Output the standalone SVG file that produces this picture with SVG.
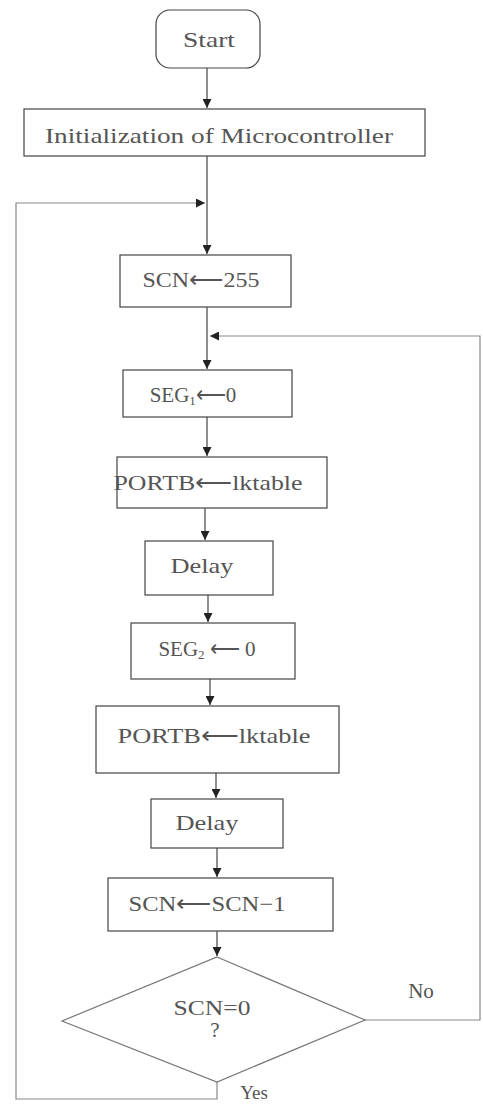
<svg xmlns="http://www.w3.org/2000/svg" width="483" height="1105" viewBox="0 0 483 1105">
<style>
.box{fill:#fff;stroke:#444;stroke-width:1.2}
.t{font-family:"Liberation Serif","Times New Roman",serif;fill:#555;font-size:21px;text-anchor:middle}
.ln{fill:none;stroke:#333;stroke-width:1.1}
.lp{fill:none;stroke:#888;stroke-width:1.2}
.sub{font-size:13px}
</style>
<defs>
<marker id="ah" viewBox="0 0 10 10" refX="10" refY="5" markerWidth="9" markerHeight="9" markerUnits="userSpaceOnUse" orient="auto">
<path d="M0,0 L10,5 L0,10 Z" fill="#222"/>
</marker>
</defs>
<rect width="483" height="1105" fill="#fff"/>
<g id="connectors">
<line class="ln" x1="207" y1="68" x2="207" y2="108" marker-end="url(#ah)"/>
<line class="ln" x1="207" y1="156" x2="207" y2="254" marker-end="url(#ah)"/>
<polyline class="lp" points="217,1082 217,1099 16,1099 16,203 205,203" marker-end="url(#ah)"/>
<line class="ln" x1="207" y1="307" x2="207" y2="369" marker-end="url(#ah)"/>
<polyline class="lp" points="365,1020 480,1020 480,336 210,336" marker-end="url(#ah)"/>
<line class="ln" x1="207" y1="417" x2="207" y2="456" marker-end="url(#ah)"/>
<line class="ln" x1="205" y1="508" x2="205" y2="540" marker-end="url(#ah)"/>
<line class="ln" x1="208" y1="595" x2="208" y2="622" marker-end="url(#ah)"/>
<line class="ln" x1="210" y1="679" x2="210" y2="705" marker-end="url(#ah)"/>
<line class="ln" x1="216" y1="773" x2="216" y2="798" marker-end="url(#ah)"/>
<line class="ln" x1="217" y1="848" x2="217" y2="877" marker-end="url(#ah)"/>
<line class="ln" x1="217" y1="931" x2="217" y2="956" marker-end="url(#ah)"/>
</g>
<g id="start">
<rect class="box" x="156" y="10" width="104" height="58" rx="14"/>
<text class="t" x="209" y="47" textLength="52" lengthAdjust="spacingAndGlyphs">Start</text>
</g>
<g id="init">
<rect class="box" x="24" y="109" width="401" height="47"/>
<text class="t" x="219" y="143" textLength="348" lengthAdjust="spacingAndGlyphs">Initialization of Microcontroller</text>
</g>
<g id="scn255">
<rect class="box" x="120" y="255" width="171" height="52"/>
<text class="t" x="201" y="287" textLength="117" lengthAdjust="spacingAndGlyphs">SCN⟵255</text>
</g>
<g id="seg1">
<rect class="box" x="123" y="370" width="169" height="47"/>
<text class="t" x="193" y="402">SEG<tspan class="sub" dy="3">1</tspan><tspan dy="-3">⟵0</tspan></text>
</g>
<g id="portb1">
<rect class="box" x="117" y="457" width="210" height="51"/>
<text class="t" x="208" y="490" textLength="189" lengthAdjust="spacingAndGlyphs">PORTB⟵lktable</text>
</g>
<g id="delay1">
<rect class="box" x="145" y="541" width="128" height="54"/>
<text class="t" x="202" y="573" textLength="63" lengthAdjust="spacingAndGlyphs">Delay</text>
</g>
<g id="seg2">
<rect class="box" x="131" y="623" width="164" height="56"/>
<text class="t" x="207" y="656">SEG<tspan class="sub" dy="3">2</tspan><tspan dy="-3"> ⟵ 0</tspan></text>
</g>
<g id="portb2">
<rect class="box" x="96" y="706" width="243" height="67"/>
<text class="t" x="214" y="743" textLength="193" lengthAdjust="spacingAndGlyphs">PORTB⟵lktable</text>
</g>
<g id="delay2">
<rect class="box" x="151" y="799" width="132" height="49"/>
<text class="t" x="207" y="830" textLength="63" lengthAdjust="spacingAndGlyphs">Delay</text>
</g>
<g id="scndec">
<rect class="box" x="108" y="878" width="225" height="53"/>
<text class="t" x="207" y="911" textLength="157" lengthAdjust="spacingAndGlyphs">SCN⟵SCN−1</text>
</g>
<g id="decision">
<polygon class="box" points="217,957 365,1020 217,1082 62,1021" style="stroke:#777"/>
<text class="t" x="212" y="1015" textLength="77" lengthAdjust="spacingAndGlyphs">SCN=0</text>
<text class="t" x="215" y="1037">?</text>
</g>
<g id="labels">
<text class="t" x="421" y="998">No</text>
<text class="t" x="254" y="1099" style="font-size:19px">Yes</text>
</g>
</svg>
